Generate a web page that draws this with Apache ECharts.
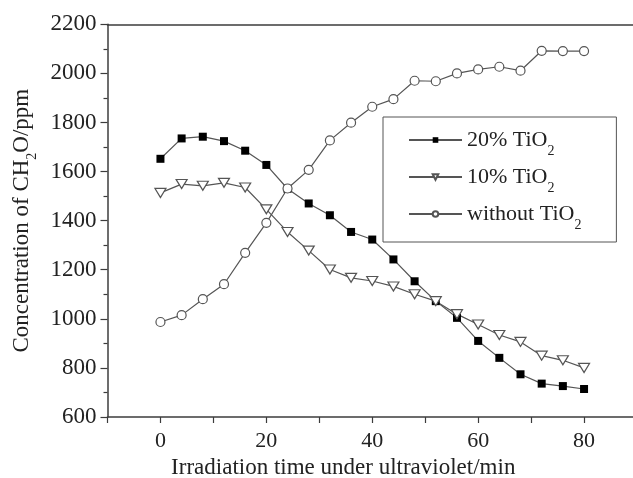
<!DOCTYPE html>
<html><head><meta charset="utf-8">
<script src="https://cdn.jsdelivr.net/npm/echarts@6/dist/echarts.min.js"></script>
<style>html,body{margin:0;padding:0;background:#fff}#c{width:633px;height:478px}</style>
</head><body><div id="c"></div>
<script>
const times = [0, 4, 8, 12, 16, 20, 24, 28, 32, 36, 40, 44, 48, 52, 56, 60, 64, 68, 72, 76, 80];
const tio2_20 = [1652, 1735, 1742, 1724, 1685, 1627, 1530, 1470, 1422, 1354, 1323, 1242, 1153, 1072, 1004, 910, 841, 774, 736, 726, 714];
const tio2_10 = [1513, 1549, 1542, 1554, 1535, 1446, 1354, 1278, 1201, 1167, 1154, 1132, 1100, 1072, 1019, 977, 934, 906, 850, 831, 800];
const noTio2 = [987, 1015, 1080, 1141, 1269, 1391, 1531, 1607, 1727, 1799, 1864, 1895, 1970, 1968, 2000, 2016, 2027, 2011, 2092, 2091, 2091];
const seriesNames = ['20% TiO2', '10% TiO2', 'without TiO2'];
const xTickLabels = ['0', '20', '40', '60', '80'];
const xTitle = 'Irradiation time under ultraviolet/min';
const yTitleParts = ['Concentration of CH', '2', 'O/ppm'];

const FONT = 'Liberation Serif';
const TXT = '#222';
const AX = '#3c3c3c';
const LINE = '#555';

function pairs(arr) { return times.map((t, i) => [t, arr[i]]); }
function subName(name) { return '{a|' + name.slice(0, -1) + '}{s|' + name.slice(-1) + '}'; }

const chart = echarts.init(document.getElementById('c'), null, {renderer: 'canvas'});
chart.setOption({
  animation: false,
  backgroundColor: '#fff',
  grid: {left: 107.5, top: 24.3, right: -4, bottom: 61, containLabel: false, outerBoundsMode: 'none'},
  legend: {
    orient: 'vertical', left: 383, top: 117,
    padding: [5, 35, 10, 25],
    itemWidth: 53, itemHeight: 7, itemGap: 1,
    borderColor: '#555', borderWidth: 1,
    data: seriesNames,
    formatter: subName,
    textStyle: {
      fontFamily: FONT, fontSize: 22, color: TXT,
      rich: {
        a: {fontFamily: FONT, fontSize: 22, color: TXT},
        s: {fontFamily: FONT, fontSize: 14, color: TXT, padding: [22, 0, 0, 0], lineHeight: 22}
      }
    }
  },
  xAxis: [{
    type: 'value', min: -10, max: 90, interval: 10,
    name: xTitle, nameLocation: 'middle', nameGap: 37,
    nameTextStyle: {fontFamily: FONT, fontSize: 23, color: TXT, padding: [0, 58, 0, 0]},
    axisLine: {show: true, onZero: false, lineStyle: {color: AX, width: 1.5}},
    axisTick: {show: true, length: 6, lineStyle: {color: AX, width: 1.2}},
    axisLabel: {
      margin: 13, fontFamily: FONT, fontSize: 22, color: TXT,
      formatter: v => xTickLabels.indexOf(String(v)) >= 0 ? String(v) : ''
    },
    splitLine: {show: false}
  }, {
    type: 'value', position: 'top', min: -10, max: 90,
    axisLine: {show: true, onZero: false, lineStyle: {color: AX, width: 1.5}},
    axisTick: {show: false}, axisLabel: {show: false}, splitLine: {show: false}
  }],
  yAxis: {
    type: 'value', min: 600, max: 2200, interval: 200,
    name: '{a|' + yTitleParts[0] + '}{s|' + yTitleParts[1] + '}{a|' + yTitleParts[2] + '}',
    nameLocation: 'middle', nameGap: 65,
    nameTextStyle: {
      fontFamily: FONT, fontSize: 23, color: TXT,
      rich: {
        a: {fontFamily: FONT, fontSize: 23, color: TXT},
        s: {fontFamily: FONT, fontSize: 14, color: TXT, padding: [22, 0, 0, 0], lineHeight: 23}
      }
    },
    axisLine: {show: true, onZero: false, lineStyle: {color: AX, width: 1.5}},
    axisTick: {show: true, length: 7, lineStyle: {color: AX, width: 1.2}},
    minorTick: {show: true, splitNumber: 2, length: 4, lineStyle: {color: AX, width: 1.2}},
    axisLabel: {margin: 11, fontFamily: FONT, fontSize: 23, color: TXT, formatter: v => String(v)},
    splitLine: {show: false}
  },
  series: [{
    name: seriesNames[0], type: 'line', data: pairs(tio2_20),
    symbol: 'rect', symbolSize: 8,
    lineStyle: {color: LINE, width: 1.2},
    itemStyle: {color: '#000', borderColor: '#000', borderWidth: 0}
  }, {
    name: seriesNames[1], type: 'line', data: pairs(tio2_10),
    symbol: 'triangle', symbolSize: [11, 9], symbolRotate: 180,
    lineStyle: {color: LINE, width: 1.2},
    itemStyle: {color: '#fff', borderColor: LINE, borderWidth: 1.2}
  }, {
    name: seriesNames[2], type: 'line', data: pairs(noTio2),
    symbol: 'circle', symbolSize: 9,
    lineStyle: {color: LINE, width: 1.2},
    itemStyle: {color: '#fff', borderColor: LINE, borderWidth: 1.2}
  }]
});
</script>
</body></html>
